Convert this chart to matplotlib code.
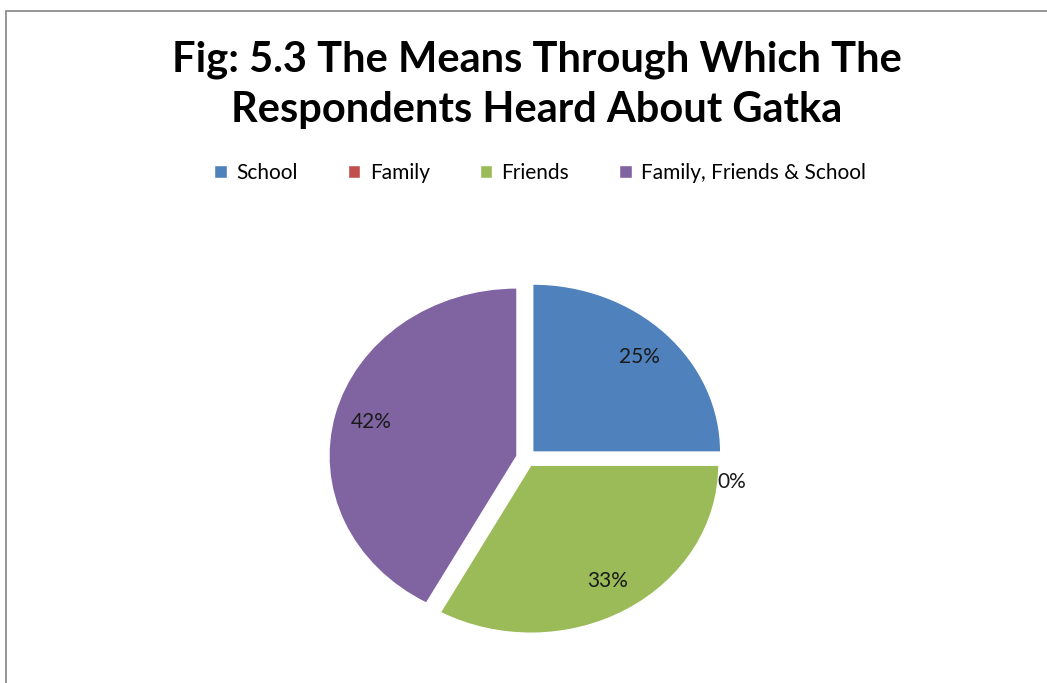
import math
import matplotlib
matplotlib.use("Agg")
import matplotlib.pyplot as plt
from matplotlib.patches import Rectangle

# data
labels = ['School', 'Family', 'Friends', 'Family, Friends & School']
shares = [25, 0, 33, 42]
colors = ['#4F81BD', '#C0504D', '#9BBB59', '#8064A2']

plt.rcParams['font.family'] = ['Lato', 'DejaVu Sans']

fig = plt.figure(figsize=(10.47, 6.83), dpi=100)

# grey chart-area frame (runs off right and bottom edges)
fig.patches.append(Rectangle((6 / 1047, -0.05), 1.1, 1 - 11 / 683 + 0.05,
                             transform=fig.transFigure, fill=False,
                             edgecolor='#8c8c8c', linewidth=1.3))

fig.text(0.513, 0.876, 'Fig: 5.3 The Means Through Which The\nRespondents Heard About Gatka',
         ha='center', va='center', fontsize=30, fontweight='bold', linespacing=1.38)

# pie axes, stretched so the pie is a bit wider than tall
ax = fig.add_axes([0.269, 0.0097, 0.4669, 0.6395])
wedges, texts, autotexts = ax.pie(shares, colors=colors, startangle=90, counterclock=False,
                                  explode=[0.05] * len(shares), autopct='%1.0f%%', pctdistance=0.8,
                                  wedgeprops=dict(edgecolor='white', linewidth=1),
                                  textprops=dict(fontsize=15, color='#1a1a1a'))
ax.set_aspect('auto')
ax.set_xlim(-1.3, 1.3)
ax.set_ylim(-1.3, 1.3)

# zero slice label sits just outside the pie edge
for w, t, v in zip(wedges, autotexts, shares):
    if v == 0:
        th = math.radians(w.theta1)
        t.set_position((1.02 * math.cos(th), 1.02 * math.sin(th) - 0.14))
        t.set_ha('left')

fig.legend(wedges, labels, loc='center', bbox_to_anchor=(0.516, 0.747), ncol=4, frameon=False,
           fontsize=15, handlelength=0.6, handleheight=0.6, handletextpad=0.45, columnspacing=2.4)

fig.savefig('out.png', dpi=100)
